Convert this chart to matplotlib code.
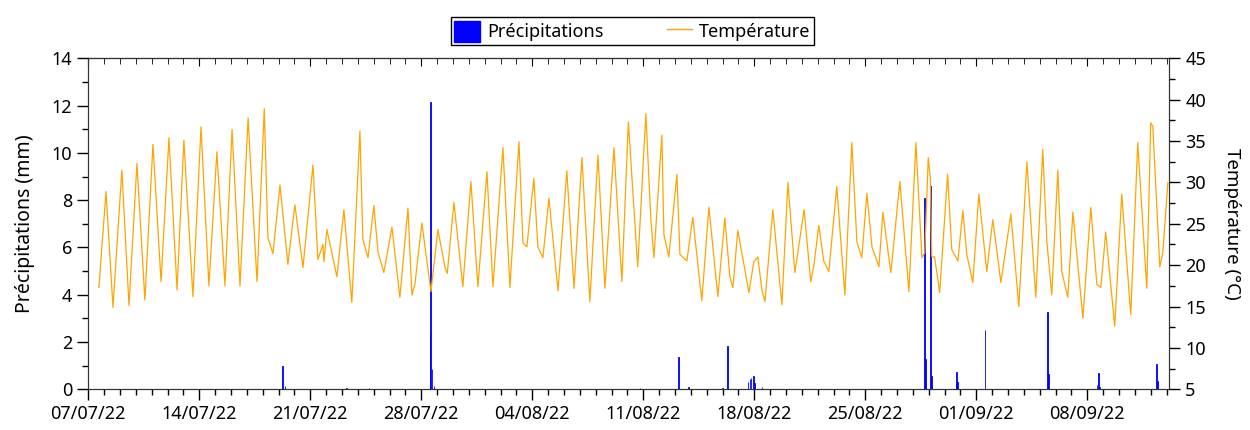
import matplotlib
matplotlib.use("Agg")
import matplotlib.pyplot as plt
import matplotlib.dates as mdates
from matplotlib.patches import Patch
from matplotlib.lines import Line2D
from matplotlib.ticker import MultipleLocator
import pandas as pd

plt.rcParams['font.family'] = ['Noto Sans', 'DejaVu Sans']

start = pd.Timestamp('2022-07-07')
end = pd.Timestamp('2022-09-13 04:00')

# temperature (°C): daily highs / lows, time in days since 07/07/22
temp_days = [0.67, 1.12, 1.56, 2.12, 2.57, 3.07, 3.57, 4.08, 4.59, 5.09, 5.60, 6.03,
             6.60, 7.11, 7.61, 8.11, 8.62, 9.07, 9.57, 10.08, 10.64, 11.10, 11.33, 11.65,
             12.09, 12.59, 13.03, 13.54, 14.17, 14.48, 14.80, 14.86, 15.05, 15.68, 16.12, 16.62,
             17.13, 17.32, 17.64, 18.01, 18.27, 18.64, 19.15, 19.65, 20.16, 20.41, 20.60, 21.04,
             21.61, 22.05, 22.49, 22.64, 23.06, 23.62, 24.13, 24.57, 25.14, 25.52, 26.15, 26.59,
             27.16, 27.41, 27.66, 28.10, 28.35, 28.67, 29.05, 29.62, 30.18, 30.63, 31.13, 31.63,
             32.14, 32.58, 33.15, 33.65, 34.06, 34.65, 35.16, 35.48, 35.67, 36.17, 36.30, 36.61,
             37.12, 37.31, 37.75, 38.12, 38.69, 39.14, 39.70, 40.14, 40.46, 40.65, 40.96, 41.66,
             41.97, 42.22, 42.48, 42.67, 43.17, 43.74, 44.12, 44.56, 45.14, 45.56, 45.75, 46.07,
             46.38, 46.70, 47.20, 47.71, 48.15, 48.47, 48.78, 49.10, 49.42, 49.86, 50.11, 50.61,
             51.18, 51.75, 52.19, 52.57, 52.75, 52.97, 53.10, 53.19, 53.37, 53.69, 54.19, 54.45,
             54.84, 55.15, 55.40, 55.78, 56.16, 56.66, 57.04, 57.55, 58.18, 58.68, 59.19, 59.75,
             60.19, 60.45, 60.76, 61.14, 61.39, 61.77, 62.09, 62.72, 63.22, 63.60, 63.85, 64.16,
             64.73, 65.17, 65.74, 66.18, 66.75, 67.00, 67.13, 67.57, 67.76, 68.08]
temp_vals = [17.3, 28.9, 14.9, 31.5, 15.1, 32.3, 15.8, 34.6, 18.0, 35.4, 17.0, 35.1,
             16.2, 36.7, 17.5, 33.7, 17.5, 36.4, 17.5, 37.8, 18.0, 38.9, 23.3, 21.4,
             29.7, 20.1, 27.3, 19.7, 32.1, 20.7, 22.5, 20.4, 24.3, 18.6, 26.7, 15.5,
             36.2, 23.1, 20.9, 27.2, 21.6, 19.1, 24.6, 16.1, 26.9, 16.4, 17.7, 25.1,
             16.8, 24.3, 19.8, 19.0, 27.6, 17.4, 30.1, 17.4, 31.3, 17.4, 34.2, 17.3,
             34.9, 22.7, 22.2, 30.5, 22.2, 20.9, 28.1, 16.9, 31.4, 17.2, 33.0, 15.6,
             33.3, 17.2, 34.2, 18.0, 37.3, 19.8, 38.3, 25.5, 20.9, 35.7, 23.7, 21.0,
             31.0, 21.3, 20.5, 25.8, 15.7, 27.0, 16.2, 25.7, 18.6, 17.3, 24.2, 16.7,
             20.4, 21.0, 17.0, 15.6, 26.7, 15.2, 30.0, 19.1, 26.7, 18.0, 19.9, 24.8,
             20.5, 19.2, 29.5, 16.4, 34.8, 22.8, 20.9, 28.7, 22.2, 19.8, 26.4, 19.1,
             30.1, 16.8, 34.8, 20.9, 21.5, 33.0, 30.5, 21.0, 21.0, 16.7, 31.0, 21.9,
             20.5, 26.6, 21.3, 17.9, 28.6, 19.2, 25.5, 17.9, 26.2, 15.0, 32.5, 16.1,
             34.0, 22.8, 16.4, 31.5, 19.2, 16.1, 26.4, 13.6, 27.0, 17.7, 17.3, 24.0,
             12.6, 28.6, 14.0, 34.8, 17.2, 37.2, 36.8, 19.8, 21.5, 30.0]

# hourly precipitation (mm), only the non-zero hours
rain_days = [12.27, 12.40, 16.30, 17.70, 21.54, 21.60, 21.67, 21.80, 34.80, 37.24, 37.87,
             40.00, 40.33, 41.60, 41.72, 41.80, 41.97, 42.03, 42.48, 52.75, 52.81, 53.13,
             53.19, 54.71, 54.77, 54.83, 56.54, 60.50, 60.56, 63.60, 63.72, 63.78, 67.38, 67.44]
rain_vals = [0.97, 0.12, 0.05, 0.05, 2.36, 12.15, 0.84, 0.15, 0.05, 1.35, 0.10,
             0.05, 1.81, 0.30, 0.45, 0.46, 0.55, 0.25, 0.10, 8.07, 1.27, 8.60,
             0.55, 0.25, 0.72, 0.30, 2.49, 3.25, 0.63, 0.20, 0.67, 0.10, 1.05, 0.37]

week_ticks = pd.date_range('2022-07-07', periods=10, freq='7D')

t_temp = start + pd.to_timedelta(temp_days, unit='D')
t_rain = start + pd.to_timedelta(rain_days, unit='D')

fig = plt.figure(figsize=(12.5, 4.3), dpi=100)
ax = fig.add_axes([0.0706, 0.0947, 0.8648, 0.7697])
ax.bar(t_rain, rain_vals, width=1 / 24, color='#0000FF', edgecolor='#0000FF', linewidth=0.6)
ax.set_ylim(0, 14)
ax.set_xlim(start, end)
ax.yaxis.set_major_locator(MultipleLocator(2))
ax.yaxis.set_minor_locator(MultipleLocator(1))
ax.set_xticks(week_ticks)
ax.xaxis.set_major_formatter(mdates.DateFormatter('%d/%m/%y'))
ax.xaxis.set_minor_locator(mdates.DayLocator())
ax.set_ylabel('Précipitations (mm)', fontsize=14, labelpad=12)
ax.tick_params(which='major', length=8, width=1, labelsize=13, direction='out')
ax.tick_params(which='minor', length=4, width=1, direction='out')

top = ax.secondary_xaxis('top')
top.set_xticks(week_ticks)
top.xaxis.set_minor_locator(mdates.DayLocator())
top.tick_params(which='major', direction='in', length=6, labeltop=False)
top.tick_params(which='minor', direction='in', length=4)

ax2 = ax.twinx()
ax2.plot(t_temp, temp_vals, color='#FFA500', linewidth=0.9)
ax2.set_ylim(5, 45)
ax2.yaxis.set_major_locator(MultipleLocator(5))
ax2.yaxis.set_minor_locator(MultipleLocator(2.5))
ax2.set_ylabel('Température (°C)', fontsize=13.5, rotation=270, labelpad=25)
ax2.tick_params(which='major', length=8, width=1, labelsize=13, direction='out')
ax2.tick_params(which='minor', length=4, width=1, direction='out')
ax2.set_xlim(start, end)

for a in (ax, ax2):
    for s in a.spines.values():
        s.set_color('#333333')

handles = [Patch(facecolor='#0000FF', edgecolor='#0000FF'),
           Line2D([0], [0], color='#FFA500', linewidth=1)]
leg = fig.legend(handles, ['Précipitations', 'Température'], loc='center',
                 bbox_to_anchor=(0.506, 0.927), ncol=2, fontsize=13, frameon=True,
                 fancybox=False, edgecolor='black', framealpha=1, borderpad=0.2,
                 handlelength=1.4, handleheight=1.4, handletextpad=0.4,
                 columnspacing=3.5, borderaxespad=0)
leg.get_frame().set_linewidth(1)

fig.savefig('out.png', dpi=100)
